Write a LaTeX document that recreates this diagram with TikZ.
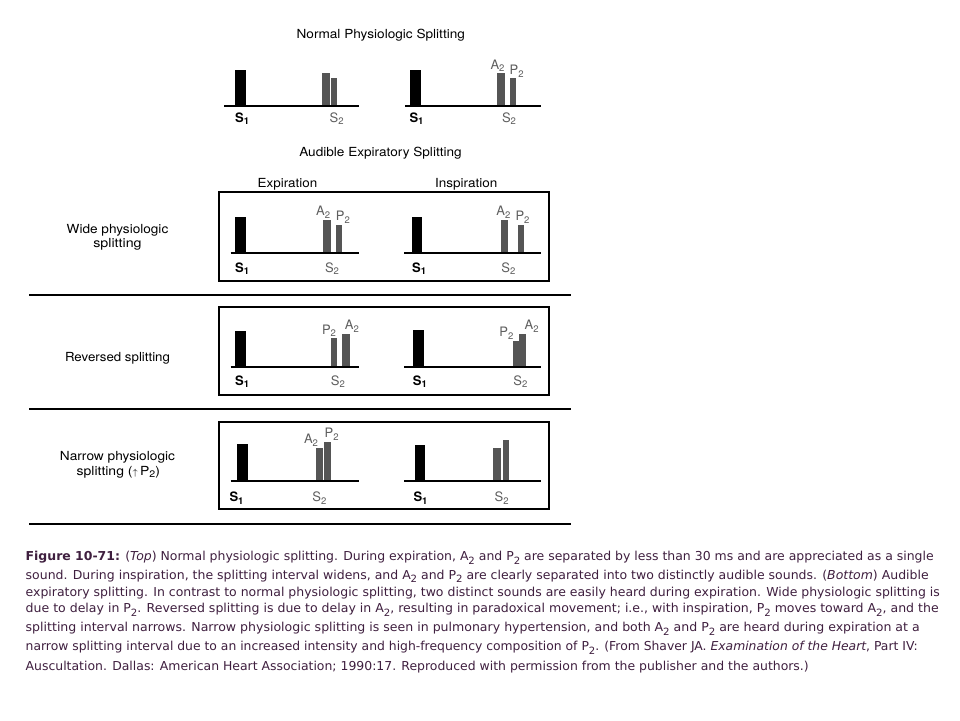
\documentclass[tikz,border=0pt]{standalone}
\usepackage{fontspec}
\usepackage{graphicx}
\setmainfont{TeX Gyre Heros}
\newfontfamily\capfont{DejaVu Sans}
\definecolor{bargray}{HTML}{555555}
\definecolor{lblgray}{HTML}{5E5E5E}
\definecolor{captxt}{HTML}{3F1F3F}
\newcommand\fitw[2]{\resizebox{#1pt}{\height}{#2}}
\newcommand\csub[1]{\raisebox{-3.5pt}{\fontsize{10}{10}\selectfont #1}}
\newcommand\dsub[1]{\raisebox{-2.8pt}{\fontsize{9.5}{10}\selectfont #1}}
\begin{document}
\begin{tikzpicture}[x=1pt,y=-1pt,
  lab/.style={inner sep=0pt, anchor=base, font=\fontsize{12.5}{14}\selectfont},
  s1lab/.style={inner sep=0pt, anchor=base west, font=\fontsize{13}{14}\selectfont\bfseries},
  s2lab/.style={lab, text=lblgray, font=\fontsize{13}{14}\selectfont},
  aplab/.style={lab, text=lblgray, font=\fontsize{13}{14}\selectfont},
  capl/.style={inner sep=0pt, anchor=base west, text=captxt, font=\capfont\fontsize{12.3}{14}\selectfont},
  s1bar/.style={fill=black},
  s2bar/.style={fill=bargray},
  axisline/.style={line width=1.8pt},
  frame/.style={draw, line width=1.8pt},
  sepline/.style={line width=2pt}]
\fill[white] (0,0) rectangle (960,720);
\useasboundingbox (0,0) rectangle (960,720);

% ---------- titles ----------
\node[lab] (ttl1) at (380.8,38.3) {\fitw{168.3}{Normal Physiologic Splitting}};
\node[lab] (ttl2) at (380.5,156) {\fitw{162.4}{Audible Expiratory Splitting}};
\node[lab] (hexp) at (287.5,187.7) {\fitw{59.6}{Expiration}};
\node[lab] (hinsp) at (466.2,187.7) {\fitw{62.3}{Inspiration}};

% ---------- top panels ----------
\fill[s1bar] (235,70) rectangle (246,105.7);
\fill[s2bar] (322,72.7) rectangle (330,105.7);
\fill[s2bar] (330.7,78) rectangle (337.3,105.7);
\draw[axisline] (224,105.7) -- (359,105.7);
\fill[s1bar] (410,70) rectangle (420.7,105.7);
\fill[s2bar] (497.3,72.7) rectangle (505,105.7);
\fill[s2bar] (510.3,78) rectangle (516,105.7);
\draw[axisline] (405,105.7) -- (540.7,105.7);
\node[s1lab] (tS1a) at (235,122) {S\dsub{1}};
\node[s2lab] (tS2a) at (336.7,122) {S\dsub{2}};
\node[s1lab] (tS1b) at (409.3,122) {S\dsub{1}};
\node[s2lab] (tS2b) at (509,122) {S\dsub{2}};
\node[aplab] (tA2b) at (497.5,69) {A\dsub{2}};
\node[aplab] (tP2b) at (516.7,74.5) {P\dsub{2}};

% ---------- wide physiologic splitting ----------
\draw[frame] (219,192.3) rectangle (549,280.7);
\fill[s1bar] (235,217.3) rectangle (245.7,253);
\fill[s2bar] (322.7,220) rectangle (330.7,253);
\fill[s2bar] (336,224.7) rectangle (342.3,253);
\draw[axisline] (230.7,253) -- (359.3,253);
\fill[s1bar] (412,217) rectangle (422.3,253);
\fill[s2bar] (500.7,220) rectangle (508.3,253);
\fill[s2bar] (518.3,225.3) rectangle (524,253);
\draw[axisline] (404,253) -- (540.7,253);
\node[aplab] (wA2a) at (323.2,215.5) {A\dsub{2}};
\node[aplab] (wP2a) at (342.8,220.2) {P\dsub{2}};
\node[aplab] (wA2b) at (503.3,215.5) {A\dsub{2}};
\node[aplab] (wP2b) at (522.5,220.8) {P\dsub{2}};
\node[s1lab] (wS1a) at (235,272) {S\dsub{1}};
\node[s2lab] (wS2a) at (332,272) {S\dsub{2}};
\node[s1lab] (wS1b) at (412,272) {S\dsub{1}};
\node[s2lab] (wS2b) at (508.3,272) {S\dsub{2}};

% ---------- reversed splitting ----------
\draw[frame] (219,306.7) rectangle (549,395);
\fill[s1bar] (235,331) rectangle (245.7,366.7);
\fill[s2bar] (330.7,338.3) rectangle (337,366.7);
\fill[s2bar] (342.3,333.7) rectangle (350,366.7);
\draw[axisline] (230.7,366.7) -- (359.3,366.7);
\fill[s1bar] (413.3,330.3) rectangle (424,366.7);
\fill[s2bar] (512.7,341.3) rectangle (519,366.7);
\fill[s2bar] (519,334) rectangle (526,366.7);
\draw[axisline] (404,366.7) -- (540.7,366.7);
\node[aplab] (rP2a) at (329,334) {P\dsub{2}};
\node[aplab] (rA2a) at (351.8,329.3) {A\dsub{2}};
\node[aplab] (rP2b) at (506.3,336.8) {P\dsub{2}};
\node[aplab] (rA2b) at (531.7,329.5) {A\dsub{2}};
\node[s1lab] (rS1a) at (235,385) {S\dsub{1}};
\node[s2lab] (rS2a) at (337.8,385) {S\dsub{2}};
\node[s1lab] (rS1b) at (412.7,385) {S\dsub{1}};
\node[s2lab] (rS2b) at (520.3,385) {S\dsub{2}};

% ---------- narrow physiologic splitting ----------
\draw[frame] (219,422.3) rectangle (549,509);
\fill[s1bar] (237.3,444) rectangle (248,481);
\fill[s2bar] (315.7,448.3) rectangle (323.3,481);
\fill[s2bar] (323.6,442) rectangle (330.7,481);
\draw[axisline] (230.7,481) -- (359.3,481);
\fill[s1bar] (415,445) rectangle (425,481);
\fill[s2bar] (493.3,447.7) rectangle (501,481);
\fill[s2bar] (502.5,440) rectangle (509.3,481);
\draw[axisline] (404,481) -- (540.7,481);
\node[aplab] (nA2a) at (311,443.8) {A\dsub{2}};
\node[aplab] (nP2a) at (331.7,437.5) {P\dsub{2}};
\node[s1lab] (nS1a) at (229.3,501.7) {S\dsub{1}};
\node[s2lab] (nS2a) at (319.3,501.7) {S\dsub{2}};
\node[s1lab] (nS1b) at (413.3,501.7) {S\dsub{1}};
\node[s2lab] (nS2b) at (501.7,501.7) {S\dsub{2}};

% ---------- row labels and separators ----------
\node[lab] (rw1) at (117.5,233.3) {\fitw{101.6}{Wide physiologic}};
\node[lab] (rw2) at (117.5,247) {\fitw{48.3}{splitting}};
\node[lab] (rrv) at (117.5,361.7) {\fitw{105}{Reversed splitting}};
\node[lab] (rn1) at (117.5,460) {\fitw{115}{Narrow physiologic}};
\node[lab] (rn2) at (118.3,475) {\fitw{83.3}{splitting ({\fontsize{9}{9}\selectfont$\uparrow$}\,P\dsub{2})}};
\draw[sepline] (29,295) -- (570.5,295);
\draw[sepline] (29,408.5) -- (570.5,408.5);
\draw[sepline, line width=2.6pt] (29,524) -- (570.5,524);

% ---------- caption ----------
\node[capl] (c1) at (25.5,560.7) {\fitw{908}{\textbf{Figure 10-71:} (\textit{Top}) Normal physiologic splitting. During expiration, A\csub{2} and P\csub{2} are separated by less than 30 ms and are appreciated as a single}};
\node[capl] (c2) at (25.5,579) {\fitw{903}{sound. During inspiration, the splitting interval widens, and A\csub{2} and P\csub{2} are clearly separated into two distinctly audible sounds. (\textit{Bottom}) Audible}};
\node[capl] (c3) at (25.5,596) {\fitw{914}{expiratory splitting. In contrast to normal physiologic splitting, two distinct sounds are easily heard during expiration. Wide physiologic splitting is}};
\node[capl] (c4) at (25.5,612.7) {\fitw{913}{due to delay in P\csub{2}. Reversed splitting is due to delay in A\csub{2}, resulting in paradoxical movement; i.e., with inspiration, P\csub{2} moves toward A\csub{2}, and the}};
\node[capl] (c5) at (25.5,631.7) {\fitw{894}{splitting interval narrows. Narrow physiologic splitting is seen in pulmonary hypertension, and both A\csub{2} and P\csub{2} are heard during expiration at a}};
\node[capl] (c6) at (25.5,650.7) {\fitw{892}{narrow splitting interval due to an increased intensity and high-frequency composition of P\csub{2}. (From Shaver JA. \textit{Examination of the Heart}, Part IV:}};
\node[capl] (c7) at (25.5,670) {\fitw{783}{Auscultation. Dallas: American Heart Association; 1990:17. Reproduced with permission from the publisher and the authors.)}};
\end{tikzpicture}
\end{document}
